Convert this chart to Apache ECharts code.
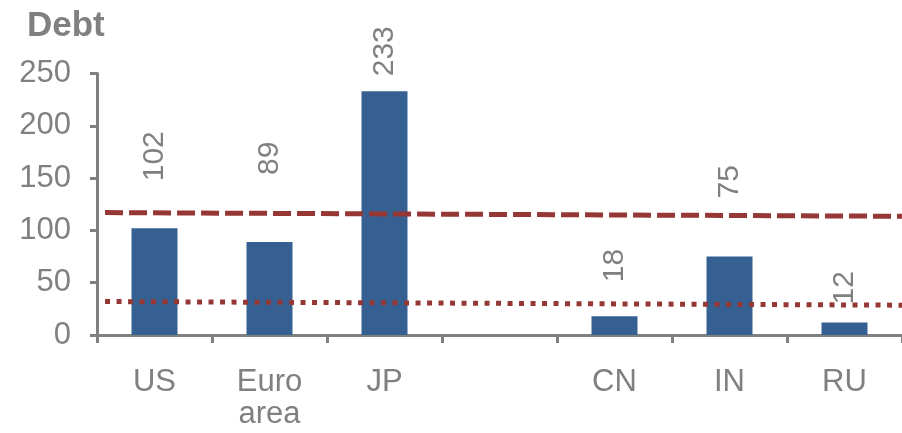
<!DOCTYPE html>
<html>
<head>
<meta charset="utf-8">
<script src="https://cdn.jsdelivr.net/npm/echarts@6/dist/echarts.min.js"></script>
<style>html,body{margin:0;padding:0;background:#fff}#c{width:902px;height:433px}</style>
</head>
<body>
<div id="c"></div>
<script>
// ---- data ----
const titleText = 'Debt';
const categories = ['US', 'Euro\narea', 'JP', '', 'CN', 'IN', 'RU'];
const debtValues = [102, 89, 233, null, 18, 75, 12];
const yTicks = [0, 50, 100, 150, 200, 250];
// reference lines: [x fraction across plot, value]
const dashedLine = [[0.01, 117], [1, 113.5]];
const dottedLine = [[0.01, 32], [1, 28.5]];

// ---- styling (label distances above bars) ----
const labelDistances = [47, 67, 15, 0, 34, 58, 18];

const gray = '#808080';
const barColor = '#366092';
const redColor = '#953735';
const font = 'Liberation Sans, Arial, sans-serif';

const chart = echarts.init(document.getElementById('c'), null, {renderer: 'canvas'});
chart.setOption({
  animation: false,
  title: {
    text: titleText, left: 22, top: 4,
    textStyle: {color: gray, fontSize: 35, fontWeight: 'bold', fontFamily: font}
  },
  grid: {left: 97, right: -3, top: 73.5, bottom: 98, containLabel: false},
  xAxis: [{
    type: 'category',
    data: categories,
    axisLine: {lineStyle: {color: gray, width: 3}},
    axisTick: {show: true, length: 8, inside: false, lineStyle: {color: gray, width: 3}},
    axisLabel: {color: gray, fontSize: 31, fontFamily: font, lineHeight: 32, margin: 31, interval: 0},
    boundaryGap: true
  }, {
    type: 'value', min: 0, max: 1, show: false
  }],
  yAxis: {
    type: 'value', min: yTicks[0], max: yTicks[yTicks.length - 1], interval: 50,
    axisLine: {show: true, lineStyle: {color: gray, width: 3}},
    axisTick: {show: true, length: 7, lineStyle: {color: gray, width: 3}},
    axisLabel: {color: gray, fontSize: 31, fontFamily: font, margin: 26},
    splitLine: {show: false}
  },
  series: [{
    type: 'bar',
    xAxisIndex: 0,
    barWidth: 46,
    itemStyle: {color: barColor},
    data: debtValues.map((v, i) => ({
      value: v,
      label: {
        show: v !== null,
        position: 'top',
        distance: labelDistances[i],
        rotate: 90,
        align: 'left',
        verticalAlign: 'middle',
        color: gray,
        fontSize: 30,
        fontFamily: font
      }
    }))
  }, {
    type: 'line',
    xAxisIndex: 1,
    data: dashedLine,
    symbol: 'none',
    lineStyle: {color: redColor, width: 5, type: [18, 6]},
    z: 5
  }, {
    type: 'line',
    xAxisIndex: 1,
    data: dottedLine,
    symbol: 'none',
    lineStyle: {color: redColor, width: 5, type: [5, 6.5]},
    z: 5
  }]
});
</script>
</body>
</html>
